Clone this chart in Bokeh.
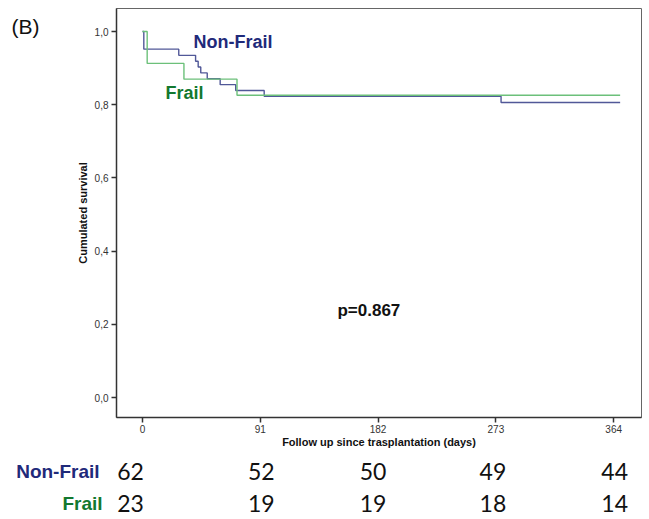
from bokeh.plotting import figure
from bokeh.layouts import column, row
from bokeh.core.properties import value
from bokeh.models import (FixedTicker, CustomJSTickFormatter, Label,
                          ColumnDataSource, Range1d)
from bokeh.embed import file_html
from bokeh.resources import INLINE

# ---- data ----
nonfrail_days = [0, 1, 28, 41, 43, 45, 50, 60, 72, 94, 277, 369]
nonfrail_surv = [1.0, 0.952, 0.935, 0.919, 0.903, 0.887, 0.871, 0.855, 0.839, 0.823, 0.806, 0.806]
frail_days = [0, 3.6, 32, 73, 369]
frail_surv = [1.0, 0.913, 0.870, 0.826, 0.826]

x_ticks = [0, 91, 182, 273, 364]
y_ticks = [0.0, 0.2, 0.4, 0.6, 0.8, 1.0]
risk_days = [0, 91, 182, 273, 364]
risk_nonfrail = ["62", "52", "50", "49", "44"]
risk_frail = ["23", "19", "19", "18", "14"]
group_names = ["Non-Frail", "Frail"]
p_value_text = "p=0.867"
panel_tag = "(B)"

NAVY = "#1f2a7a"
GREEN = "#13782f"

W, H_TOP, H_ALL = 649, 450, 519
X0, X1 = -20.1, 385.5
FRAME_L, FRAME_R = 116, 8
TAG_W = 60
px_per_day = (W - FRAME_L - FRAME_R) / (X1 - X0)

# ---- panel tag strip (left of the plot) ----
b = figure(width=TAG_W, height=H_TOP, x_range=Range1d(0, TAG_W), y_range=Range1d(H_TOP, 0),
           x_axis_type=None, y_axis_type=None, output_backend="svg", toolbar_location=None,
           min_border_left=0, min_border_right=0, min_border_top=0, min_border_bottom=0)
b.xgrid.visible = False
b.ygrid.visible = False
b.outline_line_color = None
b.text(x=[11], y=[20], text=[panel_tag], text_font=value("Liberation Sans"),
       text_font_size="21px", text_color="#111111", text_align="left",
       text_baseline="middle")

# ---- main survival plot ----
p = figure(width=W - TAG_W, height=H_TOP, x_range=Range1d(X0, X1),
           y_range=Range1d(-0.0545, 1.063), output_backend="svg",
           toolbar_location=None, min_border_left=FRAME_L - TAG_W, min_border_right=FRAME_R,
           min_border_top=8, min_border_bottom=H_TOP - 418)
p.xgrid.visible = False
p.ygrid.visible = False
p.outline_line_color = "#666666"
p.outline_line_width = 1

p.step(nonfrail_days, nonfrail_surv, mode="after", line_color="#515898", line_width=1.4)
p.step(frail_days, frail_surv, mode="after", line_color="#6cc07a", line_width=1.4)

for ax in (p.xaxis[0], p.yaxis[0]):
    ax.axis_line_color = "#333333"
    ax.axis_line_width = 1.5
    ax.major_tick_line_color = "#333333"
    ax.major_tick_line_width = 1.5
    ax.major_tick_out = 5
    ax.major_tick_in = 0
    ax.minor_tick_out = 0
    ax.minor_tick_in = 0
    ax.major_label_text_font = "Liberation Sans"
    ax.major_label_text_font_size = "10px"
    ax.major_label_text_color = "#333333"
    ax.axis_label_text_font = "Liberation Sans"
    ax.axis_label_text_font_size = "11px"
    ax.axis_label_text_font_style = "bold"
    ax.axis_label_text_color = "#111111"

p.xaxis.ticker = FixedTicker(ticks=x_ticks)
p.yaxis.ticker = FixedTicker(ticks=y_ticks)
p.yaxis.formatter = CustomJSTickFormatter(code="return tick.toFixed(1).replace('.', ',');")
p.xaxis.axis_label = "Follow up since trasplantation (days)"
p.yaxis.axis_label = "Cumulated survival"
p.xaxis.major_label_standoff = 2
p.xaxis.axis_label_standoff = 0
p.yaxis.major_label_standoff = 3
p.yaxis.axis_label_standoff = 3

p.add_layout(Label(x=39.4, y=0.971, text=group_names[0], text_font="Liberation Sans",
                   text_font_size="18px", text_font_style="bold", text_color=NAVY,
                   text_baseline="middle"))
p.add_layout(Label(x=17.8, y=0.832, text=group_names[1], text_font="Liberation Sans",
                   text_font_size="18px", text_font_style="bold", text_color=GREEN,
                   text_baseline="middle"))
p.add_layout(Label(x=150.6, y=0.238, text=p_value_text, text_font="Liberation Sans",
                   text_font_size="17px", text_font_style="bold", text_color="#111111",
                   text_baseline="middle"))

# ---- number-at-risk table (full-width strip, same day scale) ----
T_H = H_ALL - H_TOP
t = figure(width=W, height=T_H,
           x_range=Range1d(X0 - FRAME_L / px_per_day, X1 + FRAME_R / px_per_day),
           y_range=Range1d(T_H, 0), x_axis_type=None, y_axis_type=None,
           output_backend="svg", toolbar_location=None,
           min_border_left=0, min_border_right=0, min_border_top=0, min_border_bottom=0)
t.xgrid.visible = False
t.ygrid.visible = False
t.outline_line_color = None

ROW1, ROW2 = 471 - H_TOP, 503 - H_TOP
offsets = [-12, 1, -5, -3, 1]
src = ColumnDataSource(dict(x=risk_days, nf=risk_nonfrail, fr=risk_frail, off=offsets))
t.text(x="x", y=ROW1, text="nf", source=src, x_offset="off",
       text_font=value("Lato"), text_font_size="23px", text_color="#111111",
       text_align="center", text_baseline="middle")
t.text(x="x", y=ROW2, text="fr", source=src, x_offset="off",
       text_font=value("Lato"), text_font_size="23px", text_color="#111111",
       text_align="center", text_baseline="middle")
name_src = ColumnDataSource(dict(x=[-33.2, -30.9], y=[ROW1, ROW2], name=group_names,
                                 color=[NAVY, GREEN]))
t.text(x="x", y="y", text="name", source=name_src, text_color="color",
       text_font=value("Liberation Sans"), text_font_size="19px", text_font_style="bold",
       text_align="right", text_baseline="middle")

layout = column(row(b, p, spacing=0), t, spacing=0)
open("out.html", "w").write(file_html(layout, INLINE))
